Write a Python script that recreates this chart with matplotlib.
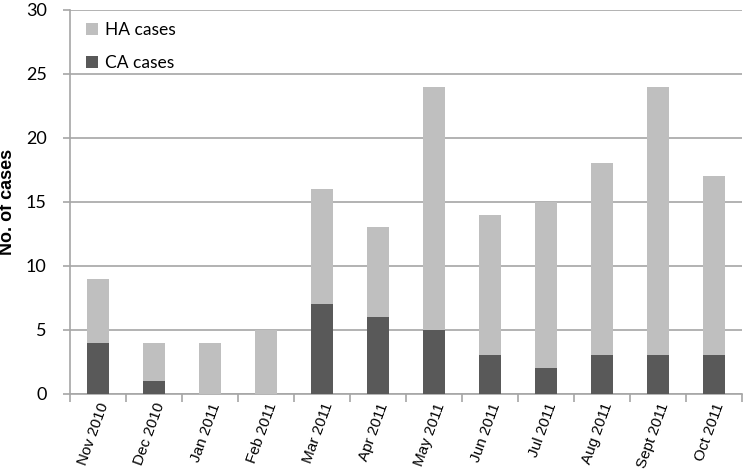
import numpy as np
import matplotlib.pyplot as plt

plt.rcParams['font.family'] = ['Liberation Sans', 'DejaVu Sans']

months = ['Nov 2010', 'Dec 2010', 'Jan 2011', 'Feb 2011', 'Mar 2011', 'Apr 2011',
          'May 2011', 'Jun 2011', 'Jul 2011', 'Aug 2011', 'Sept 2011', 'Oct 2011']
ca_cases = [4, 1, 0, 0, 7, 6, 5, 3, 2, 3, 3, 3]
ha_cases = [5, 3, 4, 5, 9, 7, 19, 11, 13, 15, 21, 14]

fig = plt.figure(figsize=(7.47, 4.70), dpi=100)
ax = fig.add_axes([0.094, 0.162, 0.899, 0.817])

x = np.arange(len(months))
ax.bar(x, ca_cases, width=0.4, color='#595959', label='CA cases', zorder=3)
ax.bar(x, ha_cases, width=0.4, bottom=ca_cases, color='#bfbfbf', label='HA cases', zorder=3)

ax.set_xlim(-0.5, len(months) - 0.5)
ax.set_ylim(0, 30)
ax.set_yticks(range(0, 31, 5))
ax.set_yticklabels([str(v) for v in range(0, 31, 5)], family='Lato', fontsize=13)
ax.yaxis.grid(True, color='#a6a6a6', linewidth=1.2, zorder=0)
ax.tick_params(axis='y', length=5, color='#a6a6a6', width=1.2, pad=12)

# ticks between categories, labels centred under bars
ax.set_xticks(np.arange(-0.5, len(months), 1.0))
ax.set_xticklabels([])
ax.set_xticks(x, minor=True)
ax.set_xticklabels(months, minor=True, rotation=70, ha='right', rotation_mode='anchor',
                   fontsize=11)
ax.tick_params(axis='x', which='major', length=6, color='#a6a6a6', width=1.2)
ax.tick_params(axis='x', which='minor', length=0, pad=5)

for s in ['top', 'right']:
    ax.spines[s].set_visible(False)
for s in ['left', 'bottom']:
    ax.spines[s].set_color('#a6a6a6')
    ax.spines[s].set_linewidth(1.2)

ax.set_ylabel('No. of cases', fontsize=13, fontweight='bold')
ax.yaxis.set_label_coords(-0.08, 0.5)

h, l = ax.get_legend_handles_labels()
ax.legend(h[::-1], l[::-1], loc='upper left', frameon=False,
          prop={'family': 'Lato', 'size': 12.5},
          handlelength=0.7, handleheight=0.7, labelspacing=1.0, handletextpad=0.4,
          bbox_to_anchor=(0.0, 1.01))

fig.savefig('out.png', dpi=100)
